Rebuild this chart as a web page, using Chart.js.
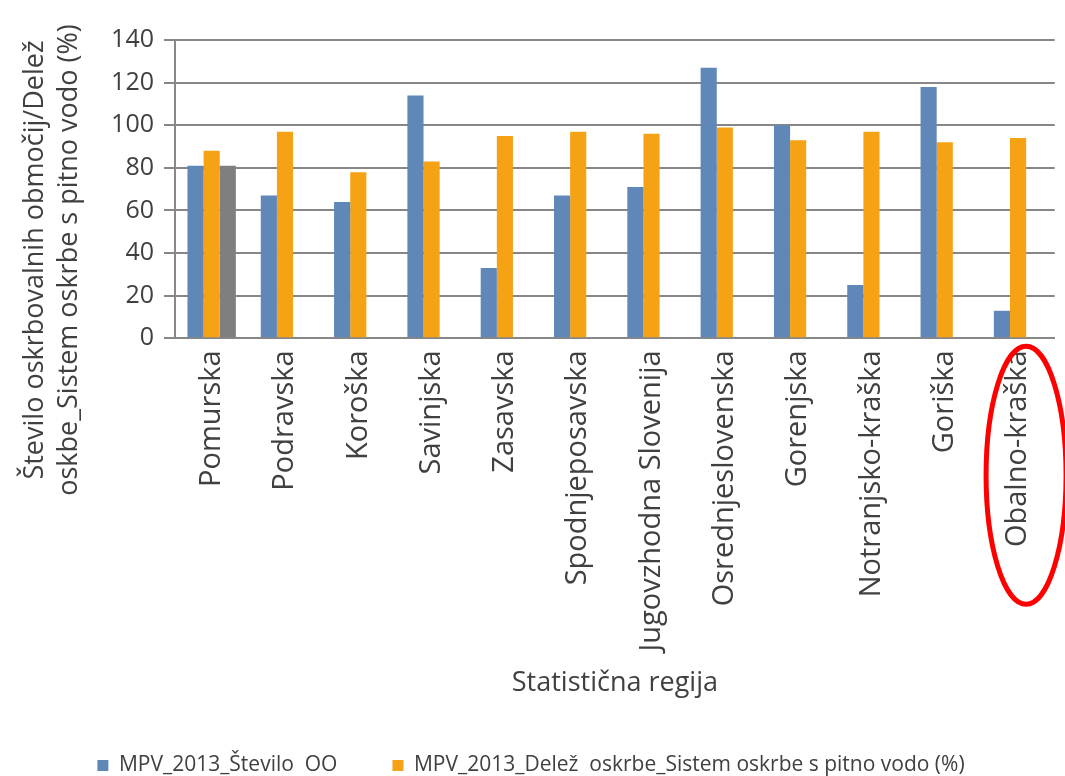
<!DOCTYPE html>
<html>
<head>
<meta charset="utf-8">
<script src="https://cdn.jsdelivr.net/npm/chart.js@4"></script>
<style>
  html, body { margin: 0; padding: 0; background: #fff; }
  #wrap { width: 1065px; height: 776px; }
</style>
</head>
<body>
<div id="wrap"><canvas id="chart-regije"></canvas></div>
<script>
const regije = [
  "Pomurska", "Podravska", "Koroška", "Savinjska", "Zasavska", "Spodnjeposavska",
  "Jugovzhodna Slovenija", "Osrednjeslovenska", "Gorenjska", "Notranjsko-kraška",
  "Goriška", "Obalno-kraška",
];
const steviloOO = [81, 67, 64, 114, 33, 67, 71, 127, 100, 25, 118, 13];
const delezOskrbe = [88, 97, 78, 83, 95, 97, 96, 99, 93, 97, 92, 94];
const tretjiStolpec = [81, null, null, null, null, null, null, null, null, null, null, null];
const yTicks = [0, 20, 40, 60, 80, 100, 120, 140];
const oznacenaRegija = "Obalno-kraška";

const pisava = "'Open Sans', Lato, sans-serif";
const siva = "#878787";

// naslov y osi in rdeča elipsa okoli izbrane regije
const dodatki = {
  id: "dodatki",
  afterDraw(chart) {
    const c = chart.ctx;
    const x = chart.scales.x;
    const y = chart.scales.y;

    c.save();
    c.fillStyle = "#404040";
    c.font = "27px " + pisava;
    c.textAlign = "center";
    c.textBaseline = "middle";
    c.translate(35, 260);
    c.rotate(-Math.PI / 2);
    c.fillText("Število oskrbovalnih območij/Delež", 0, 0);
    c.fillText("oskbe_Sistem oskrbe s pitno vodo (%)", 0, 34);
    c.restore();

    const i = regije.indexOf(oznacenaRegija);
    const cx = x.getPixelForValue(i) + 8;
    const cy = y.bottom + 137;
    c.save();
    c.strokeStyle = "#ff0000";
    c.lineWidth = 5;
    c.beginPath();
    c.ellipse(cx, cy, 40, 129, 0, 0, Math.PI * 2);
    c.stroke();
    c.restore();
  },
};

document.addEventListener("DOMContentLoaded", function () {
  const ctx = document.getElementById("chart-regije");

  new Chart(ctx, {
    type: "bar",
    data: {
      labels: regije,
      datasets: [
        {
          label: "MPV_2013_Število  OO",
          data: steviloOO,
          backgroundColor: "#5f87b8",
        },
        {
          label: "MPV_2013_Delež  oskrbe_Sistem oskrbe s pitno vodo (%)",
          data: delezOskrbe,
          backgroundColor: "#f5a314",
        },
        {
          label: "",
          data: tretjiStolpec,
          backgroundColor: "#7f7f7f",
        },
      ],
    },
    options: {
      responsive: true,
      maintainAspectRatio: false,
      animation: false,
      devicePixelRatio: 1,
      categoryPercentage: 0.66,
      barPercentage: 1.0,
      layout: { padding: { left: 0, right: 3, top: 40, bottom: -10 } },
      plugins: {
        tooltip: { enabled: false },
        legend: {
          position: "bottom",
          padding: { top: 10, bottom: -10 },
          labels: {
            filter: (item) => item.text !== "",
            color: "#404040",
            font: { family: pisava, size: 21 },
            boxWidth: 11,
            boxHeight: 11,
            padding: 55,
          },
        },
      },
      scales: {
        x: {
          grid: { display: false, drawTicks: false },
          border: { color: siva, width: 2 },
          ticks: {
            color: "#404040",
            font: { family: pisava, size: 29 },
            minRotation: 90,
            maxRotation: 90,
            padding: 12,
            autoSkip: false,
          },
          title: {
            display: true,
            text: "Statistična regija",
            color: "#404040",
            font: { family: pisava, size: 27 },
            padding: { top: 4, bottom: 0 },
          },
        },
        y: {
          min: 0,
          max: 140,
          afterBuildTicks: (axis) => {
            axis.ticks = yTicks.map((v) => ({ value: v }));
          },
          afterFit: (axis) => {
            axis.width = 175;
          },
          grid: { color: siva, lineWidth: 2, tickLength: 11 },
          border: { color: siva, width: 2 },
          ticks: {
            color: "#404040",
            font: { family: pisava, size: 25 },
            padding: 10,
          },
        },
      },
    },
    plugins: [dodatki],
  });
});
</script>
</body>
</html>
